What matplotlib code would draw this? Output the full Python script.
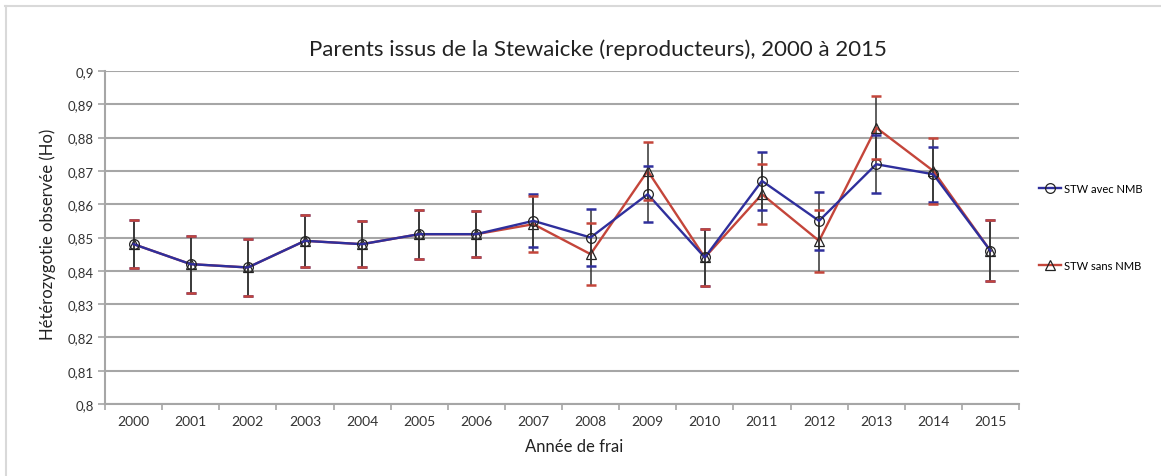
import matplotlib.pyplot as plt
from matplotlib.lines import Line2D
from matplotlib.ticker import FixedLocator, FuncFormatter
import numpy as np

plt.rcParams['font.family'] = ['Lato', 'DejaVu Sans']

years = ['2000', '2001', '2002', '2003', '2004', '2005', '2006', '2007',
         '2008', '2009', '2010', '2011', '2012', '2013', '2014', '2015']

ho_avec = [0.848, 0.842, 0.841, 0.849, 0.848, 0.851, 0.851, 0.855,
           0.850, 0.863, 0.844, 0.867, 0.855, 0.872, 0.869, 0.846]
err_avec = [0.0072, 0.0086, 0.0086, 0.0079, 0.0069, 0.0074, 0.0069, 0.0080,
            0.0087, 0.0084, 0.0085, 0.0086, 0.0087, 0.0087, 0.0083, 0.0092]

ho_sans = [0.848, 0.842, 0.841, 0.849, 0.848, 0.851, 0.851, 0.854,
           0.845, 0.870, 0.844, 0.863, 0.849, 0.883, 0.870, 0.846]
err_sans = [0.0072, 0.0086, 0.0086, 0.0079, 0.0069, 0.0074, 0.0069, 0.0085,
            0.0094, 0.0087, 0.0085, 0.0090, 0.0094, 0.0094, 0.0098, 0.0092]

yticks = [0.8, 0.81, 0.82, 0.83, 0.84, 0.85, 0.86, 0.87, 0.88, 0.89, 0.9]

BLUE = '#2f2f9c'
RED = '#c4453a'
GRID = '#a6a6a6'

fig = plt.figure(figsize=(11.61, 4.77), dpi=100)
ax = fig.add_axes([105 / 1161, 1 - 405 / 477, 914 / 1161, 333 / 477])

x = np.arange(len(years))

def draw_series(vals, errs, color, marker, label, z, cap_z):
    line, = ax.plot(x, vals, color=color, lw=1.7, marker=marker, ms=7,
                    mfc='none', mec='#222222', mew=0.9, label=label, zorder=z)
    _, caps, bars = ax.errorbar(x, vals, yerr=errs, fmt='none', ecolor='#333333',
                                elinewidth=1.1, capsize=3.8, capthick=1.8,
                                zorder=z - 1)
    # coloured caps on the dark stems
    for c in caps:
        c.set_markeredgecolor(color)
        c.set_zorder(cap_z)
    return line

h_sans = draw_series(ho_sans, err_sans, RED, '^', 'STW sans NMB', 4, 8)
h_avec = draw_series(ho_avec, err_avec, BLUE, 'o', 'STW avec NMB', 5, 7)

ax.set_xlim(-0.5, len(years) - 0.5)
ax.set_ylim(0.8, 0.9)
ax.set_xticks(x)
ax.set_xticklabels(years, fontsize=10, color='#333333')
ax.xaxis.set_minor_locator(FixedLocator(np.arange(-0.5, len(years), 1.0)))
ax.tick_params(axis='x', which='major', length=0, pad=8)
ax.tick_params(axis='x', which='minor', length=4, color=GRID, width=1.2)

ax.set_yticks(yticks)
ax.yaxis.set_major_formatter(FuncFormatter(lambda v, p: f'{v:g}'.replace('.', ',')))
ax.tick_params(axis='y', length=5, color=GRID, width=1.2, labelsize=9.5,
               labelcolor='#333333', pad=3)

ax.grid(axis='y', color=GRID, lw=1.5)
ax.set_axisbelow(True)
for s in ['top', 'right']:
    ax.spines[s].set_visible(False)
for s in ['left', 'bottom']:
    ax.spines[s].set_color(GRID)
    ax.spines[s].set_linewidth(1.5)

fig.text(598 / 1161, 1 - 50 / 477, 'Parents issus de la Stewaicke (reproducteurs), 2000 à 2015',
         ha='center', va='center', fontsize=16, color='#222222')
fig.text(48 / 1161, 1 - 234 / 477, 'Hétérozygotie observée (Ho)', rotation=90,
         ha='center', va='center', fontsize=12, color='#222222')
fig.text(574 / 1161, 1 - 447 / 477, 'Année de frai', ha='center', va='center',
         fontsize=12, color='#222222')

fig.legend(handles=[h_avec, h_sans], loc='upper left',
           bbox_to_anchor=(1033 / 1161, 1 - 178 / 477), frameon=False,
           fontsize=8, handlelength=2.0, handletextpad=0.3, labelspacing=6.0,
           borderpad=0)

# thin frame along the top and left edges
fig.add_artist(Line2D([5 / 1161, 1], [1 - 7 / 477] * 2, color='#d9d9d9', lw=1.5,
                      transform=fig.transFigure))
fig.add_artist(Line2D([6 / 1161] * 2, [0, 1 - 7 / 477], color='#d9d9d9', lw=1.5,
                      transform=fig.transFigure))

fig.savefig('out.png', dpi=100)
